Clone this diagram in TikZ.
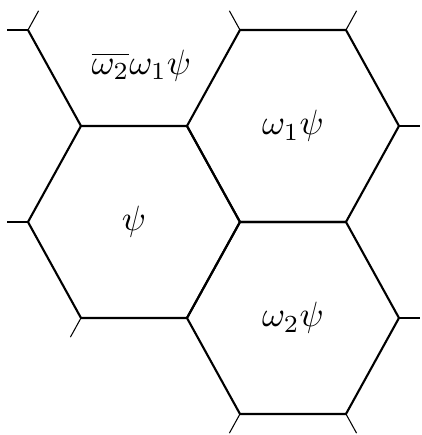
\documentclass[tikz,border=0pt]{standalone}
\usetikzlibrary{positioning}

\begin{document}
\begin{tikzpicture}[
	x=1.06cm, y=0.96cm,
	cell/.style={line width=0.6pt, line join=miter},
	stub/.style={line width=0.3pt},
	lbl/.style={inner sep=1pt},
]
\useasboundingbox (-1.264,-2.219) rectangle (2.717,2.3125);

% the three cells
\foreach \cx/\cy in {0/0, 1.5/1, 1.5/-1}
	\draw[cell, shift={(\cx,\cy)}] (-1,0) -- (-0.5,1) -- (0.5,1) -- (1,0)
		-- (0.5,-1) -- (-0.5,-1) -- cycle;
\draw[cell] (-1,2) -- (-0.5,1);

% short ends of the lattice
\foreach \a/\b/\c/\d in {-1/2/-1/0, -1/2/0.5/1, 1/2/-0.5/1, 2/2/0.5/1,
		2.5/1/1/0, 2.5/-1/1/0, 2/-2/0.5/-1, 1/-2/-0.5/-1,
		-0.5/-1/-0.5/-1, -1/0/-1/0}
	\draw[stub] (\a,\b) -- ++({0.2*\c},{0.2*\d});

\node[lbl] (psi) at (0,0) {$\psi$};
\node[lbl] (wonepsi) at (1.5,1) {$\omega_1\psi$};
\node[lbl] (wtwopsi) at (1.5,-1) {$\omega_2\psi$};
\node[lbl] (wbarpsi) at (0.07,1.63) {$\overline{\omega_2}\omega_1\psi$};

\end{tikzpicture}
\end{document}
